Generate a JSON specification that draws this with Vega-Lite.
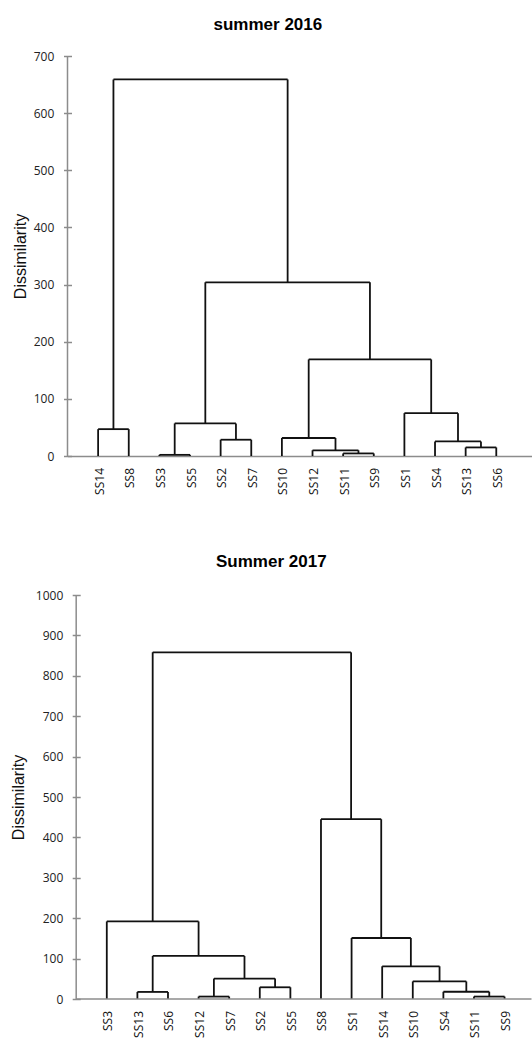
{
  "$schema": "https://vega.github.io/schema/vega-lite/v6.json",
  "background": "white",
  "padding": {"left": 9.5, "top": 16, "right": 0, "bottom": 0},
  "spacing": 58,
  "config": {"view": {"stroke": null}, "font": "Open Sans"},
  "datasets": {
    "seg2016": [
      {"x": 0, "xEnd": 1, "y": 47, "yEnd": 47}, {"x": 0, "xEnd": 0, "y": 0, "yEnd": 47}, {"x": 1, "xEnd": 1, "y": 0, "yEnd": 47},
      {"x": 2, "xEnd": 3, "y": 2, "yEnd": 2}, {"x": 2, "xEnd": 2, "y": 0, "yEnd": 2}, {"x": 3, "xEnd": 3, "y": 0, "yEnd": 2},
      {"x": 4, "xEnd": 5, "y": 28.5, "yEnd": 28.5}, {"x": 4, "xEnd": 4, "y": 0, "yEnd": 28.5}, {"x": 5, "xEnd": 5, "y": 0, "yEnd": 28.5},
      {"x": 2.5, "xEnd": 4.5, "y": 57, "yEnd": 57}, {"x": 2.5, "xEnd": 2.5, "y": 2, "yEnd": 57}, {"x": 4.5, "xEnd": 4.5, "y": 28.5, "yEnd": 57},
      {"x": 8, "xEnd": 9, "y": 4.5, "yEnd": 4.5}, {"x": 8, "xEnd": 8, "y": 0, "yEnd": 4.5}, {"x": 9, "xEnd": 9, "y": 0, "yEnd": 4.5},
      {"x": 7, "xEnd": 8.5, "y": 10, "yEnd": 10}, {"x": 7, "xEnd": 7, "y": 0, "yEnd": 10}, {"x": 8.5, "xEnd": 8.5, "y": 4.5, "yEnd": 10},
      {"x": 6, "xEnd": 7.75, "y": 31.5, "yEnd": 31.5}, {"x": 6, "xEnd": 6, "y": 0, "yEnd": 31.5}, {"x": 7.75, "xEnd": 7.75, "y": 10, "yEnd": 31.5},
      {"x": 12, "xEnd": 13, "y": 15, "yEnd": 15}, {"x": 12, "xEnd": 12, "y": 0, "yEnd": 15}, {"x": 13, "xEnd": 13, "y": 0, "yEnd": 15},
      {"x": 11, "xEnd": 12.5, "y": 25.5, "yEnd": 25.5}, {"x": 11, "xEnd": 11, "y": 0, "yEnd": 25.5}, {"x": 12.5, "xEnd": 12.5, "y": 15, "yEnd": 25.5},
      {"x": 10, "xEnd": 11.75, "y": 75, "yEnd": 75}, {"x": 10, "xEnd": 10, "y": 0, "yEnd": 75}, {"x": 11.75, "xEnd": 11.75, "y": 25.5, "yEnd": 75},
      {"x": 6.875, "xEnd": 10.875, "y": 169, "yEnd": 169}, {"x": 6.875, "xEnd": 6.875, "y": 31.5, "yEnd": 169}, {"x": 10.875, "xEnd": 10.875, "y": 75, "yEnd": 169},
      {"x": 3.5, "xEnd": 8.875, "y": 304, "yEnd": 304}, {"x": 3.5, "xEnd": 3.5, "y": 57, "yEnd": 304}, {"x": 8.875, "xEnd": 8.875, "y": 169, "yEnd": 304},
      {"x": 0.5, "xEnd": 6.1875, "y": 659, "yEnd": 659}, {"x": 0.5, "xEnd": 0.5, "y": 47, "yEnd": 659}, {"x": 6.1875, "xEnd": 6.1875, "y": 304, "yEnd": 659}
    ],
    "leaves2016": [
      {"pos": 0, "name": "SS14"}, {"pos": 1, "name": "SS8"}, {"pos": 2, "name": "SS3"}, {"pos": 3, "name": "SS5"},
      {"pos": 4, "name": "SS2"}, {"pos": 5, "name": "SS7"}, {"pos": 6, "name": "SS10"}, {"pos": 7, "name": "SS12"},
      {"pos": 8, "name": "SS11"}, {"pos": 9, "name": "SS9"}, {"pos": 10, "name": "SS1"}, {"pos": 11, "name": "SS4"},
      {"pos": 12, "name": "SS13"}, {"pos": 13, "name": "SS6"}
    ],
    "seg2017": [
      {"x": 1, "xEnd": 2, "y": 17.5, "yEnd": 17.5}, {"x": 1, "xEnd": 1, "y": 0, "yEnd": 17.5}, {"x": 2, "xEnd": 2, "y": 0, "yEnd": 17.5},
      {"x": 3, "xEnd": 4, "y": 6, "yEnd": 6}, {"x": 3, "xEnd": 3, "y": 0, "yEnd": 6}, {"x": 4, "xEnd": 4, "y": 0, "yEnd": 6},
      {"x": 5, "xEnd": 6, "y": 29, "yEnd": 29}, {"x": 5, "xEnd": 5, "y": 0, "yEnd": 29}, {"x": 6, "xEnd": 6, "y": 0, "yEnd": 29},
      {"x": 3.5, "xEnd": 5.5, "y": 50.5, "yEnd": 50.5}, {"x": 3.5, "xEnd": 3.5, "y": 6, "yEnd": 50.5}, {"x": 5.5, "xEnd": 5.5, "y": 29, "yEnd": 50.5},
      {"x": 1.5, "xEnd": 4.5, "y": 106.5, "yEnd": 106.5}, {"x": 1.5, "xEnd": 1.5, "y": 17.5, "yEnd": 106.5}, {"x": 4.5, "xEnd": 4.5, "y": 50.5, "yEnd": 106.5},
      {"x": 0, "xEnd": 3, "y": 192, "yEnd": 192}, {"x": 0, "xEnd": 0, "y": 0, "yEnd": 192}, {"x": 3, "xEnd": 3, "y": 106.5, "yEnd": 192},
      {"x": 12, "xEnd": 13, "y": 6, "yEnd": 6}, {"x": 12, "xEnd": 12, "y": 0, "yEnd": 6}, {"x": 13, "xEnd": 13, "y": 0, "yEnd": 6},
      {"x": 11, "xEnd": 12.5, "y": 18, "yEnd": 18}, {"x": 11, "xEnd": 11, "y": 0, "yEnd": 18}, {"x": 12.5, "xEnd": 12.5, "y": 6, "yEnd": 18},
      {"x": 10, "xEnd": 11.75, "y": 43.5, "yEnd": 43.5}, {"x": 10, "xEnd": 10, "y": 0, "yEnd": 43.5}, {"x": 11.75, "xEnd": 11.75, "y": 18, "yEnd": 43.5},
      {"x": 9, "xEnd": 10.875, "y": 81, "yEnd": 81}, {"x": 9, "xEnd": 9, "y": 0, "yEnd": 81}, {"x": 10.875, "xEnd": 10.875, "y": 43.5, "yEnd": 81},
      {"x": 8, "xEnd": 9.9375, "y": 151, "yEnd": 151}, {"x": 8, "xEnd": 8, "y": 0, "yEnd": 151}, {"x": 9.9375, "xEnd": 9.9375, "y": 81, "yEnd": 151},
      {"x": 7, "xEnd": 8.96875, "y": 445, "yEnd": 445}, {"x": 7, "xEnd": 7, "y": 0, "yEnd": 445}, {"x": 8.96875, "xEnd": 8.96875, "y": 151, "yEnd": 445},
      {"x": 1.5, "xEnd": 7.984375, "y": 858, "yEnd": 858}, {"x": 1.5, "xEnd": 1.5, "y": 192, "yEnd": 858}, {"x": 7.984375, "xEnd": 7.984375, "y": 445, "yEnd": 858}
    ],
    "leaves2017": [
      {"pos": 0, "name": "SS3"}, {"pos": 1, "name": "SS13"}, {"pos": 2, "name": "SS6"}, {"pos": 3, "name": "SS12"},
      {"pos": 4, "name": "SS7"}, {"pos": 5, "name": "SS2"}, {"pos": 6, "name": "SS5"}, {"pos": 7, "name": "SS8"},
      {"pos": 8, "name": "SS1"}, {"pos": 9, "name": "SS14"}, {"pos": 10, "name": "SS10"}, {"pos": 11, "name": "SS4"},
      {"pos": 12, "name": "SS11"}, {"pos": 13, "name": "SS9"}
    ]
  },
  "vconcat": [
    {
      "width": 464,
      "height": 400,
      "title": {"text": "summer 2016", "font": "Liberation Sans", "fontSize": 17, "fontWeight": "bold", "color": "#000", "anchor": "middle", "frame": "bounds", "baseline": "alphabetic", "offset": 3, "dx": -4},
      "layer": [
        {
          "data": {"name": "seg2016"},
          "mark": {"type": "rule", "color": "#111", "strokeWidth": 1.8},
          "encoding": {
            "x": {"field": "x", "type": "quantitative", "scale": {"domain": [-1, 14.15], "nice": false, "zero": false},
                  "axis": {"orient": "bottom", "ticks": false, "labels": false, "title": null, "grid": false, "domainColor": "#8c8c8c", "domainWidth": 1.5}},
            "x2": {"field": "xEnd"},
            "y": {"field": "y", "type": "quantitative", "scale": {"domain": [0, 700], "nice": false},
                  "axis": {"title": "Dissimilarity", "titleFont": "Liberation Sans", "titleFontSize": 16, "titleFontWeight": "normal", "titleColor": "#111", "titlePadding": 5,
                           "values": [0, 100, 200, 300, 400, 500, 600, 700], "format": "d", "grid": false, "domain": false, "offset": -4, "tickSize": 8, "tickColor": "#8c8c8c", "tickWidth": 1.5,
                           "labelFont": "Open Sans", "labelFontSize": 12, "labelColor": "#222", "labelPadding": 9.7}},
            "y2": {"field": "yEnd"}
          }
        },
        {
          "data": {"values": [{}]},
          "mark": {"type": "rule", "color": "#8c8c8c", "strokeWidth": 1.5},
          "encoding": {"x": {"datum": -1, "type": "quantitative"}, "y": {"datum": 0, "type": "quantitative"}, "y2": {"datum": 700}}
        },
        {
          "data": {"name": "leaves2016"},
          "mark": {"type": "text", "angle": 270, "align": "right", "baseline": "middle", "dx": -12, "dy": 1.5, "font": "Open Sans", "fontSize": 12, "color": "#111"},
          "encoding": {"x": {"field": "pos", "type": "quantitative"}, "y": {"datum": 0, "type": "quantitative"}, "text": {"field": "name"}}
        }
      ]
    },
    {
      "width": 464,
      "height": 404,
      "title": {"text": "Summer 2017", "font": "Liberation Sans", "fontSize": 17, "fontWeight": "bold", "color": "#000", "anchor": "middle", "frame": "bounds", "baseline": "alphabetic", "offset": 5},
      "layer": [
        {
          "data": {"name": "seg2017"},
          "mark": {"type": "rule", "color": "#111", "strokeWidth": 1.8},
          "encoding": {
            "x": {"field": "x", "type": "quantitative", "scale": {"domain": [-1.284, 13.88], "nice": false, "zero": false}, "axis": null},
            "x2": {"field": "xEnd"},
            "y": {"field": "y", "type": "quantitative", "scale": {"domain": [0, 1000], "nice": false},
                  "axis": {"title": "Dissimilarity", "titleFont": "Liberation Sans", "titleFontSize": 16, "titleFontWeight": "normal", "titleColor": "#111", "titlePadding": 9,
                           "values": [0, 100, 200, 300, 400, 500, 600, 700, 800, 900, 1000], "format": "d", "grid": false, "domain": false, "offset": -12.7, "tickSize": 8, "tickColor": "#8c8c8c", "tickWidth": 1.5,
                           "labelFont": "Open Sans", "labelFontSize": 12, "labelColor": "#222", "labelPadding": 9.4}},
            "y2": {"field": "yEnd"}
          }
        },
        {
          "data": {"values": [{}]},
          "mark": {"type": "rule", "color": "#8c8c8c", "strokeWidth": 1.5},
          "encoding": {"x": {"datum": -1, "type": "quantitative"}, "x2": {"datum": 13.88}, "y": {"datum": 0, "type": "quantitative"}}
        },
        {
          "data": {"values": [{}]},
          "mark": {"type": "rule", "color": "#8c8c8c", "strokeWidth": 1.5},
          "encoding": {"x": {"datum": -1, "type": "quantitative"}, "y": {"datum": 0, "type": "quantitative"}, "y2": {"datum": 1000}}
        },
        {
          "data": {"name": "leaves2017"},
          "mark": {"type": "text", "angle": 270, "align": "right", "baseline": "middle", "dx": -12, "dy": 1.5, "font": "Open Sans", "fontSize": 12, "color": "#111"},
          "encoding": {"x": {"field": "pos", "type": "quantitative"}, "y": {"datum": 0, "type": "quantitative"}, "text": {"field": "name"}}
        }
      ]
    }
  ]
}
